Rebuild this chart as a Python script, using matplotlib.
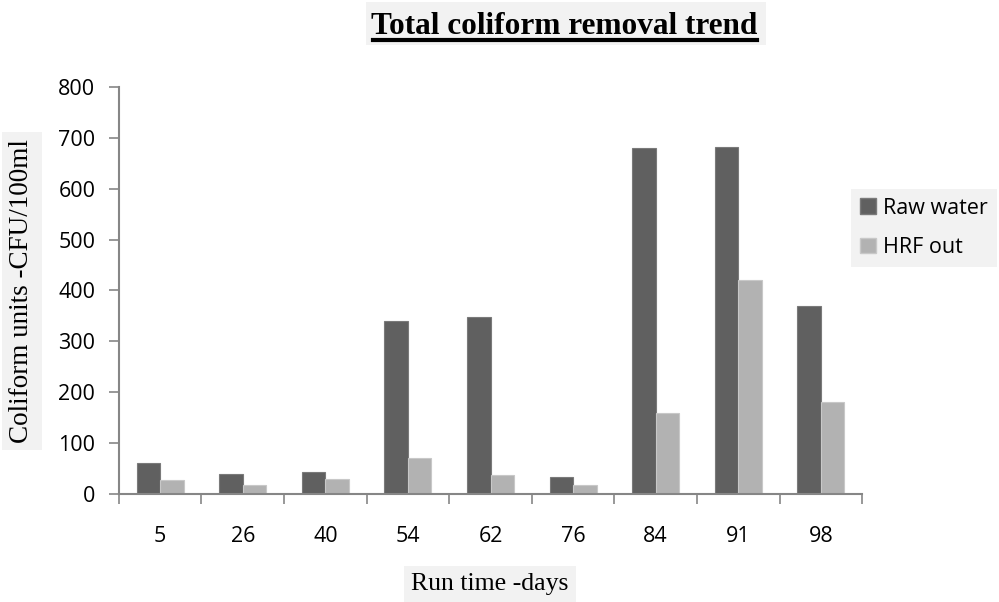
import numpy as np
import matplotlib.pyplot as plt
from matplotlib.patches import Patch, Rectangle

days = ['5', '26', '40', '54', '62', '76', '84', '91', '98']
raw_water = [60, 40, 44, 340, 347, 33, 680, 683, 370]
hrf_out = [28, 18, 30, 70, 38, 18, 160, 420, 180]

dark = '#606060'
light = '#b2b2b2'
axis_col = '#868686'
bg = '#f2f2f2'

def plot_chart():
    fig = plt.figure(figsize=(9.99, 6.02), dpi=100)
    ax = fig.add_axes([0.119, 0.1794, 0.744, 0.6761])

    x = np.arange(len(days))
    w = 0.285
    ax.bar(x - w/2, raw_water, w, color=dark, edgecolor='#7a7a7a', linewidth=0.8)
    ax.bar(x + w/2, hrf_out, w, color=light, edgecolor='#c8c8c8', linewidth=0.8)

    ax.set_xlim(-0.5, len(days) - 0.5)
    ax.set_ylim(0, 800)
    ax.set_yticks(np.arange(0, 801, 100))

    # category labels centred, ticks at the boundaries
    ax.set_xticks(x)
    ax.set_xticklabels(days, family='Open Sans', fontsize=15.5)
    ax.set_xticks(np.arange(-0.5, len(days)), minor=True)
    ax.tick_params(axis='x', which='major', length=0, pad=23)
    ax.tick_params(axis='x', which='minor', length=7, color=axis_col, width=1.2)
    ax.tick_params(axis='y', length=7, color=axis_col, width=1.2, pad=10)
    for lab in ax.get_yticklabels():
        lab.set_family('Open Sans')
        lab.set_fontsize(15.5)

    for s in ['top', 'right']:
        ax.spines[s].set_visible(False)
    for s in ['left', 'bottom']:
        ax.spines[s].set_color(axis_col)
        ax.spines[s].set_linewidth(1.5)

    # title with grey box and underline
    fig.add_artist(Rectangle((0.366, 1 - 45/602), 0.401, 43/602, transform=fig.transFigure,
                             facecolor=bg, edgecolor='none', zorder=0))
    fig.text(0.565, 1 - 34/602, 'Total coliform removal trend', ha='center', va='baseline',
             family='Liberation Serif', fontweight='bold', fontsize=22.5)
    fig.add_artist(plt.Line2D([0.373, 0.758], [1 - 40/602, 1 - 40/602], color='black', lw=3))

    box = dict(facecolor=bg, edgecolor='none', pad=5)
    fig.text(0.022, 0.517, 'Coliform units -CFU/100ml', rotation=90, ha='center', va='center',
             family='Liberation Serif', fontsize=19.5, bbox=box)
    fig.text(0.4905, 0.03, 'Run time -days', ha='center', va='center',
             family='Liberation Serif', fontsize=18.5, bbox=box)

    handles = [Patch(facecolor=dark, edgecolor='#7a7a7a'), Patch(facecolor=light, edgecolor='#c8c8c8')]
    leg = fig.legend(handles, ['Raw water', 'HRF out'], loc='upper left',
                     bbox_to_anchor=(0.852, 1 - 189/602), frameon=True, fancybox=False,
                     prop={'family': 'Open Sans', 'size': 15.5},
                     handlelength=0.75, handleheight=0.75, handletextpad=0.35,
                     labelspacing=0.85, borderpad=0.4, borderaxespad=0)
    leg.get_frame().set_facecolor(bg)
    leg.get_frame().set_edgecolor('none')
    leg.get_frame().set_alpha(1)

    fig.savefig('out.png', dpi=100)

def main():
    plot_chart()

if __name__ == '__main__': main()
